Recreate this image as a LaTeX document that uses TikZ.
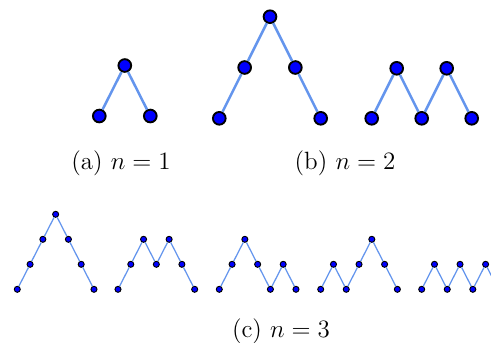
\documentclass[tikz,border=0pt]{standalone}

\definecolor{edgeblue}{RGB}{100,149,237}

\tikzset{
  bigdot/.style={circle,draw=black,fill=blue,line width=0.9pt,inner sep=0pt,minimum size=6.1pt},
  bigedge/.style={draw=edgeblue,line width=1.2pt},
  smalldot/.style={circle,draw=black,fill=blue,line width=0.45pt,inner sep=0pt,minimum size=2.9pt},
  smalledge/.style={draw=edgeblue,line width=0.6pt},
  caption/.style={font=\fontsize{12}{14}\selectfont},
}

% #1 name, #2 size (big/small), #3 x0, #4 base y, #5 dx, #6 dy, #7 heights
\newcommand{\dyckpath}[7]{%
  \foreach \h [count=\i from 0, remember=\i as \j (initially 0)] in {#7}{
    \node[#2dot] (#1-\i) at ({#3+\i*#5},{#4-\h*#6}) {};
    \ifnum\i>0 \draw[#2edge] (#1-\j) -- (#1-\i); \fi
  }%
}

\begin{document}
\begin{tikzpicture}[x=0.48pt,y=-0.48pt]
  \useasboundingbox (0,0) rectangle (491,342);

  % n = 1
  \dyckpath{a}{big}{99.3}{116}{25.5}{50.5}{0,1,0}
  \node[caption] (cap-a) at (121,163) {(a)\ $n=1$};

  % n = 2
  \dyckpath{b1}{big}{219.3}{118.3}{25.35}{50.8}{0,1,2,1,0}
  \dyckpath{b2}{big}{371.7}{118.3}{25}{50}{0,1,0,1,0}
  \node[caption] (cap-b) at (345,163) {(b)\ $n=2$};

  % n = 3
  \dyckpath{c1}{small}{17.3}{289.3}{12.78}{25}{0,1,2,3,2,1,0}
  \dyckpath{c2}{small}{118}{289.3}{12.78}{25}{0,1,2,1,2,1,0}
  \dyckpath{c3}{small}{219.3}{289.3}{12.78}{25}{0,1,2,1,0,1,0}
  \dyckpath{c4}{small}{320.7}{289.3}{12.78}{25}{0,1,0,1,2,1,0}
  \dyckpath{c5}{small}{421.7}{289.3}{12.78}{25}{0,1,0,1,0,1,0}
  \node[caption] (cap-c) at (281,331) {(c)\ $n=3$};
\end{tikzpicture}
\end{document}
